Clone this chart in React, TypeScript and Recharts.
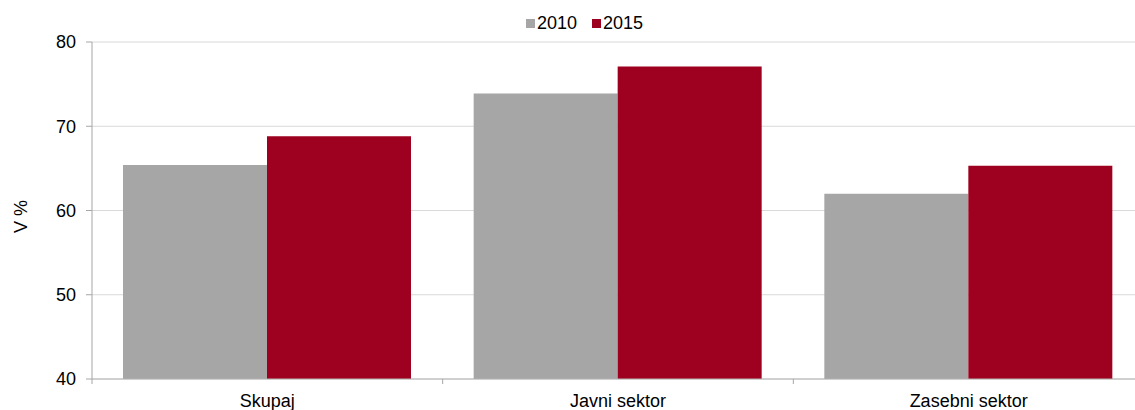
import React from 'react';
import { BarChart, Bar, XAxis, YAxis, CartesianGrid, Legend, Label } from 'recharts';

const categories = ['Skupaj', 'Javni sektor', 'Zasebni sektor'];
const values2010 = [65.4, 73.9, 62.0];
const values2015 = [68.8, 77.1, 65.3];
const seriesNames = ['2010', '2015'];
const yTicks = [40, 50, 60, 70, 80];

const COLORS = ['#a6a6a6', '#9e001f'];
const FONT = '"Liberation Sans", Arial, Helvetica, sans-serif';
const X_TICK_MARGIN = 15;

const data = categories.map((c, i) => ({
  name: c,
  s2010: values2010[i],
  s2015: values2015[i],
}));

const XTick = (props: any) => {
  const { x, y, payload } = props;
  const off = payload && typeof payload.offset === 'number' ? payload.offset : null;
  const axisY = y - X_TICK_MARGIN;
  return (
    <g>
      {off !== null && (
        <line x1={x - off} x2={x - off} y1={axisY} y2={axisY + 5} stroke="#a6a6a6" strokeWidth={1} />
      )}
      <text x={x} y={y} dy="0.71em" textAnchor="middle" fontSize={18} fill="#000" fontFamily={FONT}>
        {payload.value}
      </text>
    </g>
  );
};

const LegendContent = () => (
  <div style={{ display: 'flex', alignItems: 'center', height: 20, fontFamily: FONT, fontSize: 18, lineHeight: '20px', color: '#000', whiteSpace: 'nowrap' }}>
    {seriesNames.map((n, i) => (
      <div key={n} style={{ display: 'flex', alignItems: 'center', marginRight: i === 0 ? 15 : 0 }}>
        <span style={{ display: 'inline-block', width: 9, height: 9, background: COLORS[i], marginRight: 2 }} />
        <span>{n}</span>
      </div>
    ))}
  </div>
);

const YLabel = (props: any) => {
  const vb = props.viewBox || { x: 0, y: 42, width: 92, height: 337 };
  const cx = vb.x + 21;
  const cy = vb.y + vb.height / 2 + 6;
  return (
    <text
      x={cx}
      y={cy}
      transform={`rotate(-90, ${cx}, ${cy})`}
      textAnchor="middle"
      dominantBaseline="central"
      fontSize={18}
      fill="#000"
      fontFamily={FONT}
    >
      V %
    </text>
  );
};

export default function App() {
  return (
    <div style={{ position: 'absolute', left: 0, top: 0, width: 1135, height: 410, overflow: 'hidden', background: '#fff' }}>
      <BarChart
        width={1160}
        height={410}
        data={data}
        margin={{ top: 42, right: 16, left: 0, bottom: 1 }}
        barCategoryGap={31}
        barGap={0}
        style={{ fontFamily: FONT }}
      >
        <CartesianGrid vertical={false} stroke="#d9d9d9" strokeWidth={1} />
        <XAxis
          dataKey="name"
          height={30}
          interval={0}
          tickLine={false}
          tickSize={0}
          tickMargin={X_TICK_MARGIN}
          axisLine={{ stroke: '#b3b3b3' }}
          tick={<XTick />}
        />
        <YAxis
          width={92}
          domain={[40, 80]}
          ticks={yTicks}
          allowDataOverflow
          tickSize={6}
          tickMargin={10}
          axisLine={{ stroke: '#a6a6a6' }}
          tickLine={{ stroke: '#a6a6a6' }}
          tick={{ fontSize: 18, fill: '#000', fontFamily: FONT }}
        >
          <Label content={<YLabel />} />
        </YAxis>
        <Legend
          layout="vertical"
          align="center"
          verticalAlign="middle"
          wrapperStyle={{ left: 526, top: 13, width: 160, height: 20 }}
          content={<LegendContent />}
        />
        <Bar dataKey="s2010" name={seriesNames[0]} fill={COLORS[0]} isAnimationActive={false} />
        <Bar dataKey="s2015" name={seriesNames[1]} fill={COLORS[1]} isAnimationActive={false} />
      </BarChart>
    </div>
  );
}
